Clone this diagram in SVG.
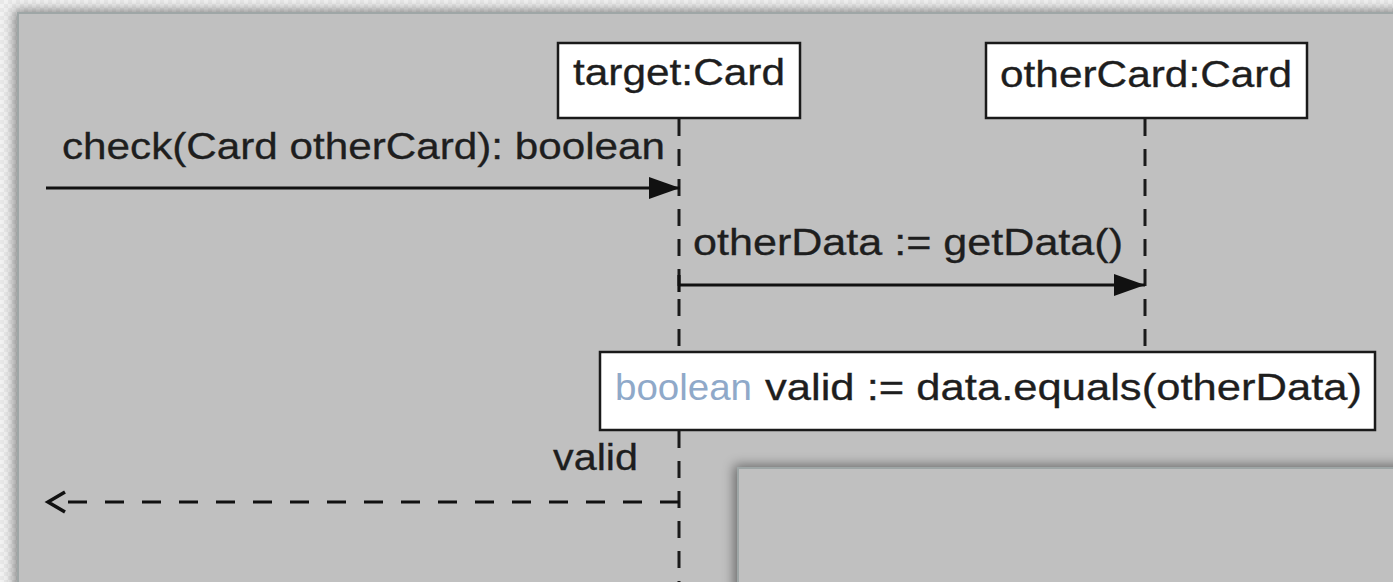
<svg xmlns="http://www.w3.org/2000/svg" width="1393" height="582" viewBox="0 0 1393 582">
<style>
.t{font-family:"Liberation Sans",Arial,sans-serif;font-size:36px;fill:#1e1e1e;stroke:#1e1e1e;stroke-width:0.3}
.box{fill:#ffffff;stroke:#1a1a1a;stroke-width:2.5}
.life{stroke:#1a1a1a;stroke-width:3;stroke-dasharray:17 13;fill:none}
.msg{stroke:#111;stroke-width:3.2;fill:none}
.ret{stroke:#111;stroke-width:3.2;fill:none;stroke-dasharray:19 18}
.panel{fill:#c0c0c0;stroke:#9ea6a6;stroke-width:2}
</style>
<defs>
<pattern id="grid" width="8" height="8" patternUnits="userSpaceOnUse">
<rect width="8" height="8" fill="#f2f2f2"/>
<rect width="4" height="4" fill="#e8e8e8"/>
<rect x="4" y="4" width="4" height="4" fill="#e8e8e8"/>
</pattern>
<filter id="sh" x="-10%" y="-10%" width="120%" height="130%">
<feDropShadow dx="-3" dy="-2" stdDeviation="6" flood-color="#000" flood-opacity="0.45"/>
</filter>
<marker id="fill" markerWidth="31" markerHeight="24" refX="31" refY="12" orient="auto" markerUnits="userSpaceOnUse">
<path d="M0,1 L31,12 L0,23 Z" fill="#111"/>
</marker>
<marker id="open" markerWidth="24" markerHeight="26" refX="19" refY="13" orient="auto" markerUnits="userSpaceOnUse">
<path d="M2,3 L19,13 L2,23" fill="none" stroke="#111" stroke-width="3.5"/>
</marker>
</defs>
<rect width="1393" height="582" fill="url(#grid)"/>
<rect class="panel" x="18" y="13" width="1400" height="600" filter="url(#sh)"/>

<g id="connectors">
<line class="life" x1="679" y1="119" x2="679" y2="352"/>
<line class="life" x1="679" y1="431" x2="679" y2="582"/>
<line class="life" x1="1145" y1="119" x2="1145" y2="352"/>
<line class="msg" x1="46" y1="188" x2="680" y2="188" marker-end="url(#fill)"/>
<line class="msg" x1="679" y1="285" x2="1145" y2="285" marker-end="url(#fill)"/>
<line class="msg" x1="679" y1="275" x2="679" y2="292"/>
<line class="ret" x1="679" y1="502" x2="48" y2="502" marker-end="url(#open)"/>
<text class="t" x="62" y="159" textLength="603" lengthAdjust="spacingAndGlyphs">check(Card otherCard): boolean</text>
<text class="t" x="693" y="255" textLength="430" lengthAdjust="spacingAndGlyphs">otherData := getData()</text>
<text class="t" x="553" y="470" textLength="85" lengthAdjust="spacingAndGlyphs">valid</text>
</g>

<g id="target">
<rect class="box" x="558" y="43" width="242" height="75"/>
<text class="t" x="573" y="85" textLength="212" lengthAdjust="spacingAndGlyphs">target:Card</text>
</g>
<g id="otherCard">
<rect class="box" x="986" y="43" width="321" height="75"/>
<text class="t" x="1000" y="87" textLength="292" lengthAdjust="spacingAndGlyphs">otherCard:Card</text>
</g>
<g id="validAssign">
<rect class="box" x="600" y="352" width="775" height="78"/>
<text class="t" x="615" y="400" textLength="137" lengthAdjust="spacingAndGlyphs" style="fill:#8fa9c9;stroke:none">boolean</text>
<text class="t" x="765" y="400" textLength="597" lengthAdjust="spacingAndGlyphs">valid := data.equals(otherData)</text>
</g>

<rect class="panel" x="738" y="468" width="700" height="200" filter="url(#sh)"/>
</svg>
